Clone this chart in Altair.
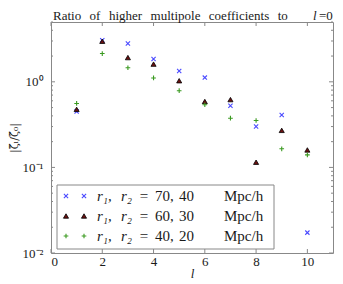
import altair as alt
import pandas as pd

# ---- data ----
ells = [1, 2, 3, 4, 5, 6, 7, 8, 9, 10]
ratio_70_40 = [0.45, 3.06, 2.80, 1.85, 1.34, 1.12, 0.525, 0.30, 0.41, 0.0173]
ratio_60_30 = [0.477, 2.98, 1.92, 1.61, 1.03, 0.589, 0.62, 0.115, 0.271, 0.16]
ratio_40_20 = [0.559, 2.14, 1.46, 1.11, 0.788, 0.54, 0.376, 0.353, 0.165, 0.14]

series_first = ["70,", "60,", "40,"]
series_second = ["40", "30", "20"]
x_ticks = [0, 2, 4, 6, 8, 10]
y_major = [0.01, 0.1, 1.0]
y_minor = [m * d for d in [0.01, 0.1, 1.0] for m in range(2, 10) if m * d <= 5]

W, H = 282, 231
SERIF = "Liberation Serif"
FRAME = "#888888"
TXT = "#1a1a1a"
SP = " \u2009\u2009"  # word gap: space + thin spaces

xscale = alt.Scale(domain=[0, 11], nice=False, zero=False)
yscale = alt.Scale(type="log", domain=[0.01, 5], nice=False)

xenc = alt.X("l:Q", scale=xscale,
             axis=alt.Axis(values=x_ticks, grid=False, ticks=False, tickSize=0, domain=False,
                           labelFont=SERIF, labelFontSize=13, labelColor=TXT, labelPadding=2,
                           title="l", titleFont=SERIF, titleFontStyle="italic",
                           titleFontWeight="normal", titleFontSize=13, titlePadding=-1,
                           titleColor=TXT))
yenc = alt.Y("ratio:Q", scale=yscale,
             axis=alt.Axis(values=y_major, grid=False, ticks=False, tickSize=0, domain=False,
                           labelFont=SERIF, labelFontSize=13, labelColor=TXT, labelPadding=8,
                           labelExpr="datum.value >= 0.5 ? '10⁰' : (datum.value >= 0.05 ? '10⁻¹' : '10⁻²')",
                           title="|ζ̃ₗ/ζ̃₀|", titleFont="DejaVu Serif", titleFontWeight="normal",
                           titleFontSize=11, titlePadding=3, titleColor=TXT))

X_X = "M-1,-1L1,1M-1,1L1,-1"
PLUS = "M-1,0L1,0M0,-1L0,1"

styles = [
    dict(shape=X_X, filled=False, stroke="#4a4aff", size=18, strokeWidth=1.1),
    dict(shape="triangle-up", filled=True, stroke="#000000", fill="#6b1010", size=26, strokeWidth=0.8),
    dict(shape=PLUS, filled=False, stroke="#3a9a20", size=22, strokeWidth=1.1),
]

series_vals = [ratio_70_40, ratio_60_30, ratio_40_20]

layers = []
one = pd.DataFrame({"a": [0]})

# inside ticks
tx = pd.DataFrame({"l": x_ticks})
for y0, y1 in [(H - 4, H), (0, 4)]:
    layers.append(alt.Chart(tx).mark_rule(color=FRAME, strokeWidth=1).encode(
        x=xenc, y=alt.value(y0), y2=alt.value(y1)))
ty = pd.DataFrame({"ratio": y_major})
tyn = pd.DataFrame({"ratio": y_minor})
for x0, x1 in [(0, 4), (W - 4, W)]:
    layers.append(alt.Chart(ty).mark_rule(color=FRAME, strokeWidth=1).encode(
        y=yenc, x=alt.value(x0), x2=alt.value(x1)))
for x0, x1 in [(0, 2), (W - 2, W)]:
    layers.append(alt.Chart(tyn).mark_rule(color=FRAME, strokeWidth=1).encode(
        y=yenc, x=alt.value(x0), x2=alt.value(x1)))

def mk_kw(st):
    kw = dict(shape=st["shape"], filled=st["filled"], stroke=st["stroke"], size=st["size"],
              strokeWidth=st["strokeWidth"], opacity=1)
    if "fill" in st:
        kw["fill"] = st["fill"]
    return kw

# data points
for vals, st in zip(series_vals, styles):
    d = pd.DataFrame({"l": ells, "ratio": vals})
    layers.append(alt.Chart(d).mark_point(**mk_kw(st)).encode(x=xenc, y=yenc))

# legend box
layers.append(alt.Chart(one).mark_rect(fill="white", stroke=FRAME, strokeWidth=1).encode(
    x=alt.value(6), x2=alt.value(223), y=alt.value(163), y2=alt.value(227)))
row_y = [174, 194, 214]
for a, b, st, yy in zip(series_first, series_second, styles, row_y):
    for xx in [15, 33]:
        layers.append(alt.Chart(one).mark_point(**mk_kw(st)).encode(x=alt.value(xx), y=alt.value(yy)))
    pieces = [("r₁,", 46, "left", True), ("r₂", 70, "left", True), ("=", 93, "center", False),
              (a, 104, "left", False), (b, 128, "left", False), ("Mpc/h", 173, "left", False)]
    for txt, xx, al, italic in pieces:
        layers.append(alt.Chart(one).mark_text(text=txt, font=SERIF, fontSize=15, align=al,
                                               baseline="middle", color=TXT,
                                               fontStyle="italic" if italic else "normal").encode(
            x=alt.value(xx), y=alt.value(yy)))

# title pieces
title_main = SP.join(["Ratio", "of", "higher", "multipole", "coefficients", "to"])
for txt, xx, italic in [(title_main, 2, False), ("l", 262, True), ("=0", 268, False)]:
    layers.append(alt.Chart(one).mark_text(text=txt, font=SERIF, fontSize=13, align="left",
                                           baseline="alphabetic", color=TXT,
                                           fontStyle="italic" if italic else "normal").encode(
        x=alt.value(xx), y=alt.value(-2)))

chart = alt.layer(*layers).properties(
    width=W, height=H,
    autosize=alt.AutoSizeParams(type="none"),
    padding={"left": 43, "top": 14, "right": 2, "bottom": 30},
).configure_view(stroke=FRAME, strokeWidth=1)

chart.save("out.html", embed_options={"renderer": "svg", "actions": False})
